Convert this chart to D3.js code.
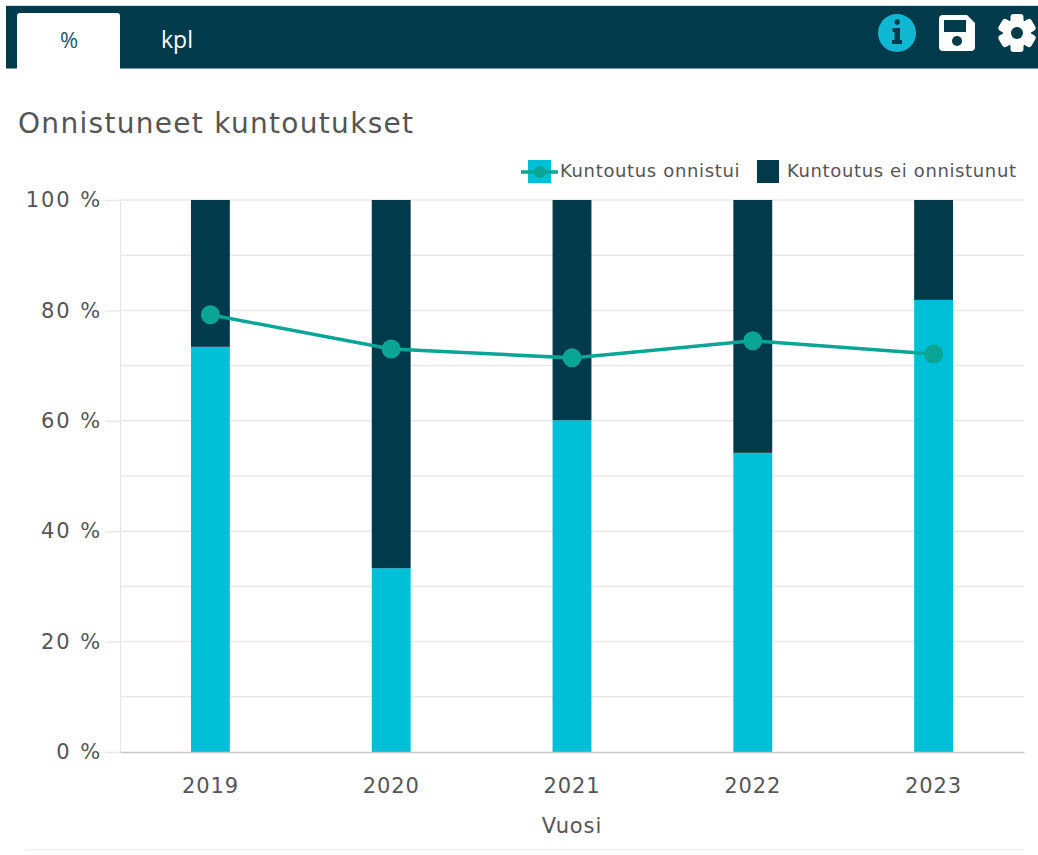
<!DOCTYPE html>
<html lang="fi">
<head>
<meta charset="utf-8">
<title>Onnistuneet kuntoutukset</title>
<script src="https://cdn.jsdelivr.net/npm/d3@7"></script>
<style>
  html, body { margin: 0; padding: 0; background: #fff; }
  svg { display: block; }
  text { font-family: "DejaVu Sans", Verdana, sans-serif; fill: #555; }
</style>
</head>
<body>
<svg id="chart" width="1038" height="855"></svg>
<script>
// Share of rehabilitations per year
const years = ["2019", "2020", "2021", "2022", "2023"];
const succeeded = [73.4, 33.3, 60.1, 54.2, 81.9];
const notSucceeded = [26.6, 66.7, 39.9, 45.8, 18.1];
const succeededLine = [79.2, 73.0, 71.4, 74.5, 72.1];
const yTicks = [0, 20, 40, 60, 80, 100];
const yGrid = [10, 20, 30, 40, 50, 60, 70, 80, 90, 100];
const tabs = ["%", "kpl"];
const titleText = "Onnistuneet kuntoutukset";
const xAxisTitle = "Vuosi";
const seriesNames = ["Kuntoutus onnistui", "Kuntoutus ei onnistunut"];

const NAVY = "#013a4b", CYAN = "#00c0d8", TEAL = "#0ba596";

const svg = d3.select("#chart");
const plotLeft = 120, plotRight = 1024, plotTop = 200, plotBottom = 752;

const x = d3.scaleBand().domain(years).range([plotLeft, plotRight]).paddingInner(0.785).paddingOuter(0.3925);
const y = d3.scaleLinear().domain([0, 100]).range([plotBottom, plotTop]);
const lineX = d => x(d) + x.bandwidth() / 2;

// Header strip with tabs and tool icons
svg.append("rect").attr("x", 6).attr("y", 5).attr("width", 1032).attr("height", 1).attr("fill", "#bfe6f0");
svg.append("rect").attr("x", 6).attr("y", 6).attr("width", 1032).attr("height", 62.5).attr("fill", NAVY);
svg.append("path").attr("d", "M17,69V16a3,3 0 0 1 3,-3H117a3,3 0 0 1 3,3V69Z").attr("fill", "#fff");
const tabFont = '"Open Sans", sans-serif';
svg.append("text").attr("x", 69).attr("y", 48).attr("text-anchor", "middle")
  .style("font-family", tabFont).style("font-size", "22px").style("fill", "#1f5566").text(tabs[0]);
svg.append("text").attr("x", 177).attr("y", 48).attr("text-anchor", "middle")
  .style("font-family", tabFont).style("font-size", "23px").style("fill", "#fff").text(tabs[1]);

// Info icon
const info = svg.append("g").attr("transform", "translate(897,33)");
info.append("circle").attr("r", 19).attr("fill", "#10b7d3");
info.append("path").attr("fill", NAVY)
  .attr("d", "M-2.5,-11a2.7,2.7 0 1 0 5.4,0a2.7,2.7 0 1 0 -5.4,0ZM-4.5,-5H3V7H5V11H-5V7H-2.5V-1H-4.5Z");

// Save icon
const save = svg.append("g").attr("transform", "translate(957,33)");
save.append("path").attr("fill", "#fff").attr("fill-rule", "evenodd")
  .attr("d", "M-14,-18H10L18,-10V14a4,4 0 0 1 -4,4H-14a4,4 0 0 1 -4,-4V-14a4,4 0 0 1 4,-4Z" +
             "M-13,-13V-1H9V-13Z");
save.append("circle").attr("cx", 0).attr("cy", 8).attr("r", 5).attr("fill", NAVY);

// Settings icon: six-lobed gear
const gear = svg.append("g").attr("transform", "translate(1017,33)");
const teeth = [0, 60, 120];
gear.selectAll("rect.tooth").data(teeth).join("rect")
  .attr("class", "tooth").attr("x", -6.5).attr("y", -19).attr("width", 13).attr("height", 38).attr("rx", 3)
  .attr("fill", "#fff").attr("transform", d => `rotate(${d})`);
gear.append("circle").attr("r", 14).attr("fill", "#fff");
gear.append("circle").attr("r", 6).attr("fill", NAVY);

// Chart title
svg.append("text").attr("x", 18).attr("y", 133).style("font-size", "28px").style("letter-spacing", "1.3px").text(titleText);

// Gridlines
svg.append("g").selectAll("line").data(yGrid).join("line")
  .attr("x1", plotLeft).attr("x2", plotRight).attr("y1", d => y(d)).attr("y2", d => y(d))
  .attr("stroke", "#e9e9e9").attr("stroke-width", 1.5);

// Y axis
const yAxis = svg.append("g").attr("transform", `translate(${plotLeft},0)`)
  .call(d3.axisLeft(y).tickValues(yTicks).tickSize(15).tickPadding(3).tickFormat(d => `${d} %`));
yAxis.select(".domain").attr("stroke", "#e4e4e4");
yAxis.selectAll(".tick line").attr("stroke", "#e9e9e9").attr("stroke-width", 1.5);
yAxis.selectAll("text").style("font-size", "21px").style("letter-spacing", "1.9px").style("fill", "#555");

// Stacked bars
const bars = svg.append("g");
bars.selectAll("rect.ok").data(years).join("rect").attr("class", "ok")
  .attr("x", d => x(d)).attr("width", x.bandwidth())
  .attr("y", (d, i) => y(succeeded[i])).attr("height", (d, i) => y(0) - y(succeeded[i]))
  .attr("fill", CYAN);
bars.selectAll("rect.fail").data(years).join("rect").attr("class", "fail")
  .attr("x", d => x(d)).attr("width", x.bandwidth())
  .attr("y", (d, i) => y(succeeded[i] + notSucceeded[i])).attr("height", (d, i) => y(succeeded[i]) - y(succeeded[i] + notSucceeded[i]))
  .attr("fill", NAVY);

// X axis
const xAxis = svg.append("g").attr("transform", `translate(0,${plotBottom})`)
  .call(d3.axisBottom(x).tickSize(0).tickPadding(26));
xAxis.select(".domain").attr("stroke", "#c8c8c8").attr("stroke-width", 1.5);
xAxis.selectAll("text").style("font-size", "21px").style("letter-spacing", "0.9px").style("fill", "#555");
svg.append("text").attr("x", 572).attr("y", 833).attr("text-anchor", "middle")
  .style("font-size", "21px").style("letter-spacing", "0.9px").text(xAxisTitle);

// Line overlay
const line = d3.line().x((d, i) => lineX(years[i])).y(d => y(d));
svg.append("path").datum(succeededLine).attr("d", line)
  .attr("fill", "none").attr("stroke", TEAL).attr("stroke-width", 3.5);
svg.append("g").selectAll("circle").data(succeededLine).join("circle")
  .attr("cx", (d, i) => lineX(years[i])).attr("cy", d => y(d)).attr("r", 9.5).attr("fill", TEAL);

// Legend
const legend = svg.append("g");
legend.append("rect").attr("x", 528).attr("y", 160).attr("width", 23).attr("height", 23).attr("fill", CYAN);
legend.append("line").attr("x1", 521).attr("x2", 558).attr("y1", 172).attr("y2", 172).attr("stroke", TEAL).attr("stroke-width", 3.5);
legend.append("circle").attr("cx", 540).attr("cy", 172).attr("r", 6).attr("fill", TEAL);
legend.append("text").attr("x", 560).attr("y", 177).style("font-size", "18px").style("letter-spacing", "0.65px").text(seriesNames[0]);
legend.append("rect").attr("x", 757).attr("y", 160).attr("width", 22).attr("height", 23).attr("fill", NAVY);
legend.append("text").attr("x", 787).attr("y", 177).style("font-size", "18px").style("letter-spacing", "0.63px").text(seriesNames[1]);

// Faint rule under the panel
svg.append("line").attr("x1", 25).attr("x2", 1024).attr("y1", 849.5).attr("y2", 849.5).attr("stroke", "#f3f3f3").attr("stroke-width", 1.5);
</script>
</body>
</html>
